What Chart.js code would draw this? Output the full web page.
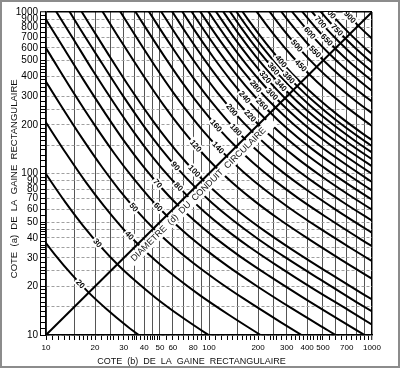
<!DOCTYPE html>
<html>
<head>
<meta charset="utf-8">
<script src="https://cdn.jsdelivr.net/npm/chart.js@4.4.1/dist/chart.umd.min.js"></script>
<style>
  html, body { margin: 0; padding: 0; background: #fff; }
  #chart { display: block; outline: 2px solid #8c8c8c; outline-offset: -2px; }
</style>
</head>
<body>
<canvas id="chart" width="400" height="368"></canvas>
<script>
// Circular duct diameter (d) curves.
// Each row: upper half of the curve, from the diagonal (a = b) up towards the left/top edge.
const diameters = [20, 30, 40, 50, 60, 70, 80, 90, 100, 120, 140, 160, 180, 200, 220, 240, 260, 280,
                   300, 320, 340, 360, 380, 400, 450, 500, 550, 600, 650, 700, 750, 800, 900];

// side (b) of the duct along each curve
const halfB = [
  [18.3, 14.6, 11.3, 8.8],
  [27.4, 21.8, 16.9, 13.2, 9.97, 7.32],
  [36.6, 29.1, 22.6, 17.6, 13.3, 9.76],
  [45.7, 36.4, 28.2, 22.0, 16.6, 12.2, 8.91],
  [54.9, 43.7, 33.9, 26.4, 19.9, 14.6, 10.7, 7.68],
  [64.0, 51.0, 39.5, 30.8, 23.3, 17.1, 12.5, 8.96],
  [73.2, 58.2, 45.1, 35.2, 26.6, 19.5, 14.3, 10.2],
  [82.3, 65.5, 50.8, 39.6, 29.9, 22.0, 16.0, 11.5],
  [91.5, 72.8, 56.4, 44.0, 33.2, 24.4, 17.8, 12.8],
  [109.8, 87.4, 67.7, 52.8, 39.9, 29.3, 21.4],
  [128.1, 101.9, 79.0, 61.6, 46.5, 34.2, 25.0],
  [146.4, 116.5, 90.3, 70.4, 53.2, 39.0, 28.5],
  [164.7, 131.1, 101.6, 79.3, 59.8, 43.9, 32.1],
  [183.0, 145.6, 112.9, 88.1, 66.4, 48.8],
  [201.3, 160.2, 124.1, 96.9, 73.1, 53.7],
  [219.6, 174.7, 135.4, 105.7, 79.7, 58.6],
  [237.8, 189.3, 146.7, 114.5, 86.4, 63.5],
  [256.1, 203.9, 158.0, 123.3, 93.0, 68.3],
  [274.4, 218.4, 169.3, 132.1, 99.7, 73.2],
  [292.7, 233.0, 180.6, 140.9, 106.3],
  [311.0, 247.6, 191.9, 149.7, 112.9],
  [329.3, 262.1, 203.1, 158.5, 119.6],
  [347.6, 276.7, 214.4, 167.3, 126.2],
  [365.9, 291.2, 225.7, 176.1, 132.9],
  [411.7, 327.6, 253.9, 198.1, 149.5],
  [457.4, 364.1, 282.2, 220.2],
  [503.1, 400.5, 310.4, 242.2],
  [548.9, 436.9, 338.6, 264.2],
  [594.6, 473.3, 366.8],
  [640.4, 509.7, 395.0],
  [686.1, 546.1, 423.2],
  [731.8, 582.5, 451.4],
  [823.3, 655.3, 507.8]
];

// side (a) of the duct along each curve
const halfA = [
  [18.3, 23.3, 31.6, 44.0],
  [27.4, 35.0, 47.4, 66.0, 99.7, 161.1],
  [36.6, 46.6, 63.2, 88.1, 132.9, 214.8],
  [45.7, 58.3, 79.0, 110.1, 166.1, 268.5, 445.7],
  [54.9, 69.9, 94.8, 132.1, 199.3, 322.2, 534.8, 921.7],
  [64.0, 81.6, 110.6, 154.1, 232.5, 375.9, 624.0, 1075],
  [73.2, 93.2, 126.4, 176.1, 265.8, 429.5, 713.1, 1229],
  [82.3, 104.9, 142.2, 198.1, 299.0, 483.2, 802.3, 1383],
  [91.5, 116.5, 158.0, 220.2, 332.2, 536.9, 891.4, 1536],
  [109.8, 139.8, 189.6, 264.2, 398.6, 644.3, 1070],
  [128.1, 163.1, 221.2, 308.2, 465.1, 751.7, 1248],
  [146.4, 186.4, 252.8, 352.2, 531.5, 859.1, 1426],
  [164.7, 209.7, 284.4, 396.3, 598.0, 966.5, 1605],
  [183.0, 233.0, 316.0, 440.3, 664.4, 1074],
  [201.3, 256.3, 347.6, 484.3, 730.8, 1181],
  [219.6, 279.6, 379.2, 528.4, 797.3, 1289],
  [237.8, 302.9, 410.8, 572.4, 863.7, 1396],
  [256.1, 326.2, 442.4, 616.4, 930.2, 1503],
  [274.4, 349.5, 474.0, 660.5, 996.6, 1611],
  [292.7, 372.8, 505.6, 704.5, 1063],
  [311.0, 396.1, 537.2, 748.5, 1130],
  [329.3, 419.4, 568.8, 792.5, 1196],
  [347.6, 442.7, 600.4, 836.6, 1262],
  [365.9, 466.0, 632.0, 880.6, 1329],
  [411.7, 524.3, 711.0, 990.7, 1495],
  [457.4, 582.5, 790.0, 1101],
  [503.1, 640.8, 869.0, 1211],
  [548.9, 699.0, 948.0, 1321],
  [594.6, 757.3, 1027],
  [640.4, 815.5, 1106],
  [686.1, 873.8, 1185],
  [731.8, 932.0, 1264],
  [823.3, 1049, 1422]
];

const diagonal = [10, 1000];

// axes
const xTickLabels = [10, 20, 30, 40, 50, 60, 80, 100, 200, 300, 400, 500, 700, 1000];
const yTickLabels = [10, 20, 30, 40, 50, 60, 70, 80, 90, 100, 200, 300, 400, 500, 600, 700, 800, 900, 1000];
const gridValues = [10, 15, 20, 25, 30, 35, 40, 45, 50, 60, 70, 80, 90, 100, 150, 200, 250, 300,
                    400, 500, 600, 700, 800, 900, 1000];
// small ruler marks: [from, to, step]
const minorSteps = [[10, 20, 1], [20, 50, 2], [50, 100, 5], [100, 200, 10], [200, 500, 20], [500, 1000, 50]];

const xTitle = 'COTE  (b)  DE  LA  GAINE  RECTANGULAIRE';
const yTitle = 'COTE  (a)  DE  LA  GAINE  RECTANGULAIRE';
const diagonalText = 'DIAMETRE  (d)  DU  CONDUIT  CIRCULAIRE';

const FONT = '"Liberation Sans", Arial, sans-serif';
const NB = '\u00a0';

function buildTickValues() {
    const vals = new Set();
    minorSteps.forEach(([from, to, step]) => {
        for (let v = from; v <= to; v += step) vals.add(v);
    });
    gridValues.forEach(v => vals.add(v));
    return [...vals].sort((a, b) => a - b);
}
const tickValues = buildTickValues();

// full curve ordered by b: upper half reversed, then the mirrored lower half
const datasets = diameters.map((d, i) => {
    const upper = halfB[i].map((b, j) => ({ x: b, y: halfA[i][j] })).reverse();
    const lower = halfB[i].slice(1).map((b, j) => ({ x: halfA[i][j + 1], y: b }));
    return {
        label: String(d),
        data: upper.concat(lower),
        borderColor: '#000',
        borderWidth: 2,
        pointRadius: 0,
        fill: false,
        tension: 0.4,
        cubicInterpolationMode: 'monotone'
    };
});

datasets.push({
    label: 'diagonal',
    data: [{ x: diagonal[0], y: diagonal[0] }, { x: diagonal[1], y: diagonal[1] }],
    borderColor: '#000',
    borderWidth: 2,
    pointRadius: 0,
    fill: false,
    tension: 0
});

// walk along a curve from its diagonal point towards the upper-left
function pointAlong(pts, start, dist) {
    let remain = dist;
    for (let j = start; j > 0; j--) {
        const p = pts[j], q = pts[j - 1];
        const seg = Math.hypot(q.x - p.x, q.y - p.y);
        if (seg >= remain) {
            const t = remain / seg;
            return { x: p.x + (q.x - p.x) * t, y: p.y + (q.y - p.y) * t, angle: Math.atan2(p.y - q.y, p.x - q.x) };
        }
        remain -= seg;
    }
    const p = pts[1], q = pts[0];
    return { x: q.x, y: q.y, angle: Math.atan2(p.y - q.y, p.x - q.x) };
}

const curveLabels = {
    id: 'curveLabels',
    afterDatasetsDraw(chart) {
        const ctx = chart.ctx;
        const xs = chart.scales.x, ys = chart.scales.y;
        ctx.save();
        ctx.beginPath();
        ctx.rect(chart.chartArea.left, chart.chartArea.top, chart.chartArea.width, chart.chartArea.height);
        ctx.clip();

        // diameter labels, alternately near and far from the diagonal
        ctx.font = 'bold 8px ' + FONT;
        ctx.textAlign = 'center';
        ctx.textBaseline = 'middle';
        diameters.forEach((d, i) => {
            const pts = chart.getDatasetMeta(i).data;
            const start = halfB[i].length - 1;
            const pos = pointAlong(pts, start, i % 2 === 0 ? 12 : 29);
            const txt = String(d);
            const w = ctx.measureText(txt).width;
            ctx.save();
            ctx.translate(pos.x, pos.y);
            ctx.rotate(pos.angle);
            ctx.fillStyle = '#fff';
            ctx.fillRect(-w / 2 - 1.5, -4.5, w + 3, 9);
            ctx.fillStyle = '#000';
            ctx.fillText(txt, 0, 0.5);
            ctx.restore();
        });

        // text along the diagonal
        const x0 = xs.getPixelForValue(diagonal[0]), y0 = ys.getPixelForValue(diagonal[0]);
        const x1 = xs.getPixelForValue(diagonal[1]), y1 = ys.getPixelForValue(diagonal[1]);
        const ang = Math.atan2(y1 - y0, x1 - x0);
        const cx = xs.getPixelForValue(80), cy = ys.getPixelForValue(80);
        ctx.font = '9px ' + FONT;
        const tw = ctx.measureText(diagonalText).width;
        ctx.translate(cx, cy);
        ctx.rotate(ang);
        ctx.fillStyle = '#fff';
        ctx.fillRect(-tw / 2 - 4, 2, tw + 16, 11);
        ctx.fillStyle = '#111';
        ctx.fillText(diagonalText, 0, 7.5);
        ctx.restore();
    },
    afterDraw(chart) {
        // outer rail of the left ruler
        const ctx = chart.ctx;
        const a = chart.chartArea;
        const x = a.left - chart.options.scales.y.grid.tickLength + 0.5;
        ctx.save();
        ctx.strokeStyle = '#000';
        ctx.lineWidth = 1;
        ctx.beginPath();
        ctx.moveTo(x, a.top);
        ctx.lineTo(x, a.bottom);
        ctx.stroke();
        ctx.restore();
    }
};

const isGrid = c => c.tick && gridValues.includes(c.tick.value);
const isFrame = c => c.tick && (c.tick.value === 1000);

new Chart(document.getElementById('chart').getContext('2d'), {
    type: 'line',
    data: { datasets },
    plugins: [curveLabels],
    options: {
        responsive: false,
        animation: false,
        events: [],
        layout: { padding: { top: 12, right: 28, left: 0, bottom: 0 } },
        plugins: { legend: { display: false }, tooltip: { enabled: false } },
        scales: {
            x: {
                type: 'logarithmic',
                min: 10,
                max: 1000,
                afterBuildTicks: s => { s.ticks = tickValues.map(v => ({ value: v })); },
                afterFit: s => { s.height = 33; },
                ticks: {
                    autoSkip: false,
                    maxRotation: 0,
                    minRotation: 0,
                    padding: 3,
                    color: '#000',
                    font: { family: FONT, size: 8 },
                    callback: v => xTickLabels.includes(v) ? String(v) : ''
                },
                grid: {
                    color: c => isFrame(c) ? '#000' : (isGrid(c) ? '#555' : 'rgba(0,0,0,0)'),
                    lineWidth: c => isFrame(c) ? 1.5 : 1,
                    tickColor: '#000',
                    tickLength: 5,
                    tickWidth: 1
                },
                border: { display: true, color: '#000', width: 1.5 },
                title: {
                    display: true,
                    // trailing spaces move the centred title a little to the left, as in the original
                    text: xTitle + NB.repeat(14),
                    color: '#111',
                    font: { family: FONT, size: 9 },
                    padding: { top: 0, bottom: 1 }
                }
            },
            y: {
                type: 'logarithmic',
                min: 10,
                max: 1000,
                afterBuildTicks: s => { s.ticks = tickValues.map(v => ({ value: v })); },
                afterFit: s => { s.width = 46; },
                ticks: {
                    autoSkip: false,
                    padding: 2,
                    color: '#000',
                    font: { family: FONT, size: 10 },
                    callback: v => yTickLabels.includes(v) ? String(v) : ''
                },
                grid: {
                    color: c => isFrame(c) ? '#000' : (isGrid(c) ? '#a0a0a0' : 'rgba(0,0,0,0)'),
                    lineWidth: c => isFrame(c) ? 1.5 : 1,
                    tickColor: '#000',
                    tickLength: 6,
                    tickWidth: 1
                },
                border: {
                    display: true,
                    color: '#000',
                    width: 1.5,
                    dash: c => (c.tick && c.tick.value !== 1000) ? [3, 2] : []
                },
                title: {
                    display: true,
                    text: yTitle + NB.repeat(4),
                    color: '#111',
                    font: { family: FONT, size: 9.5 },
                    padding: { top: 9, bottom: 0 }
                }
            }
        }
    }
});
</script>
</body>
</html>
